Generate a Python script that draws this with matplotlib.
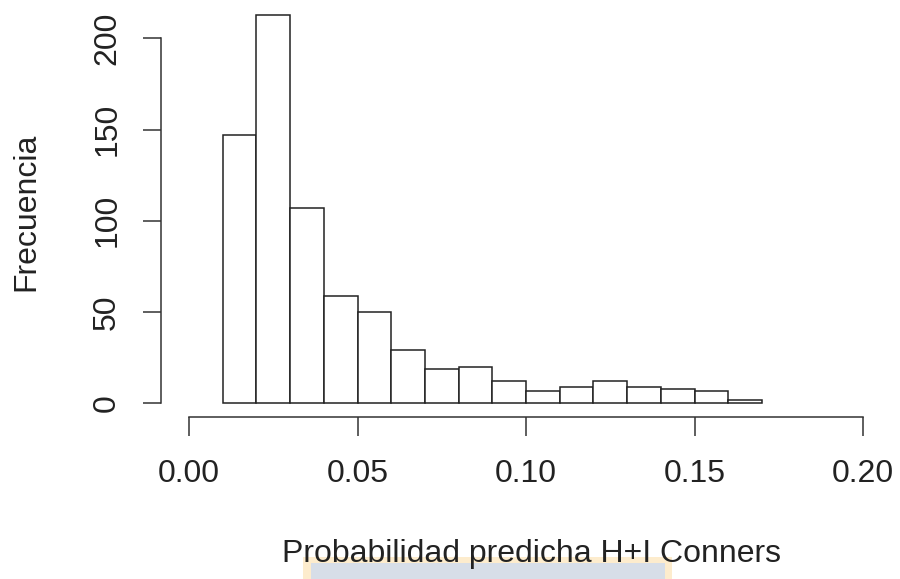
import matplotlib
matplotlib.use("Agg")
import matplotlib.pyplot as plt
from matplotlib.patches import Rectangle

plt.rcParams['font.family'] = ['Liberation Sans', 'DejaVu Sans']

# Data
bin_edges = [0.01, 0.02, 0.03, 0.04, 0.05, 0.06, 0.07, 0.08, 0.09,
             0.10, 0.11, 0.12, 0.13, 0.14, 0.15, 0.16, 0.17]
counts = [147, 213, 107, 59, 50, 29, 19, 20, 12, 7, 9, 12, 9, 8, 7, 2]
x_ticks = [0.00, 0.05, 0.10, 0.15, 0.20]
x_tick_labels = ["0.00", "0.05", "0.10", "0.15", "0.20"]
y_ticks = [0, 50, 100, 150, 200]
y_tick_labels = ["0", "50", "100", "150", "200"]
xlabel = "Probabilidad predicha H+I Conners"
ylabel = "Frecuencia"

W, H = 900, 579
fig = plt.figure(figsize=(W / 100, H / 100), dpi=100)
FS = 23

# axes in pixel coordinates
x0, x1 = 189, 863      # data 0.00 .. 0.20
ybot, ytop = 403.3, 14.6  # data 0 .. 213
ax = fig.add_axes([x0 / W, 1 - ybot / H, (x1 - x0) / W, (ybot - ytop) / H])
ax.set_xlim(0, 0.20)
ax.set_ylim(0, 213)

lefts = bin_edges[:-1]
widths = [b - a for a, b in zip(bin_edges[:-1], bin_edges[1:])]
ax.bar(lefts, counts, width=widths, align='edge', facecolor='white',
       edgecolor='#222222', linewidth=1.1, clip_on=False)

for s in ['top', 'right']:
    ax.spines[s].set_visible(False)
px2pt = 72 / 100
ax.spines['bottom'].set_position(('outward', 13.5 * px2pt))
ax.spines['left'].set_position(('outward', 28 * px2pt))
ax.spines['bottom'].set_bounds(0, 0.20)
ax.spines['left'].set_bounds(0, 200)
for s in ['bottom', 'left']:
    ax.spines[s].set_color('#333333')
    ax.spines[s].set_linewidth(1.1)

ax.set_xticks(x_ticks)
ax.set_xticklabels(x_tick_labels)
ax.set_yticks(y_ticks)
ax.set_yticklabels(y_tick_labels)
ax.tick_params(axis='x', length=19 * px2pt, width=1.1, color='#333333',
               labelsize=FS, pad=17, labelcolor='#222222')
ax.tick_params(axis='y', length=18 * px2pt, width=1.1, color='#333333',
               labelsize=FS, pad=15, labelcolor='#222222', labelrotation=90)
for lab in ax.get_yticklabels():
    lab.set_verticalalignment('center')

# background highlight box near the bottom
fig.patches.append(Rectangle((303 / W, 0), (672 - 303) / W, (579 - 557) / H,
                             transform=fig.transFigure, facecolor='#fdeccd',
                             edgecolor='none', zorder=0))
fig.patches.append(Rectangle((311 / W, 0), (665 - 311) / W, (579 - 563) / H,
                             transform=fig.transFigure, facecolor='#d7dee8',
                             edgecolor='none', zorder=0.5))

fig.text(532 / W, 1 - 554 / H, xlabel, ha='center', va='center',
         fontsize=FS, color='#222222', zorder=5)
fig.text(26 / W, 1 - 212 / H, ylabel, ha='center', va='center',
         rotation=90, fontsize=FS, color='#222222', zorder=5)

fig.savefig("out.png", dpi=100)
